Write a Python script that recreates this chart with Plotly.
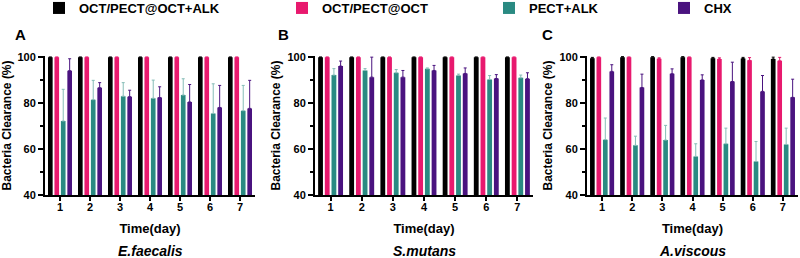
import plotly.graph_objects as go

days = ["1", "2", "3", "4", "5", "6", "7"]
series_names = ["OCT/PECT@OCT+ALK", "OCT/PECT@OCT", "PECT+ALK", "CHX"]
colors = ["#000000", "#E8196E", "#2A8A82", "#4A137F"]
err_colors = ["#000000", "#E8196E", "#86BDB7", "#4A137F"]

# Panel A: E.faecalis
a_vals = [
    [100, 100, 100, 100, 100, 100, 100],
    [100, 100, 100, 100, 100, 100, 100],
    [72.2, 81.5, 83.0, 82.1, 83.5, 75.5, 76.7],
    [94.1, 86.7, 82.8, 82.4, 80.5, 78.1, 77.7],
]
a_err = [
    [0, 0, 0, 0, 0, 0, 0],
    [0, 0, 0, 0, 0, 0, 0],
    [13.8, 8.4, 5.9, 7.9, 7.1, 12.9, 11.0],
    [5.2, 2.2, 2.8, 4.7, 7.6, 9.6, 12.2],
]
# Panel B: S.mutans
b_vals = [
    [100, 100, 100, 100, 100, 100, 100],
    [100, 100, 100, 100, 100, 100, 100],
    [92.2, 94.2, 93.2, 94.9, 92.0, 90.3, 91.0],
    [96.1, 91.3, 91.3, 94.2, 92.9, 90.7, 90.6],
]
b_err = [
    [0, 0, 0, 0, 0, 0, 0],
    [0, 0, 0, 0, 0, 0, 0],
    [2.8, 0.8, 1.4, 0.4, 0.6, 1.7, 1.2],
    [2.2, 8.7, 2.9, 2.2, 2.4, 1.7, 2.6],
]
# Panel C: A.viscous
c_vals = [
    [99.5, 100, 100, 100, 99.5, 99.4, 99.2],
    [100, 100, 99.3, 100, 99.2, 98.6, 98.4],
    [64.1, 61.6, 63.9, 56.8, 62.3, 54.6, 62.0],
    [93.8, 86.8, 92.8, 90.1, 89.4, 85.1, 82.5],
]
c_err = [
    [0.4, 0.2, 0.2, 0.2, 0.4, 0.5, 0.8],
    [0, 0, 0.4, 0, 0.5, 1.2, 1.5],
    [9.4, 4.0, 6.4, 5.5, 6.8, 8.7, 7.1],
    [2.9, 5.8, 2.1, 2.2, 8.4, 6.9, 7.9],
]
species = ["E.faecalis", "S.mutans", "A.viscous"]
panel_letters = ["A", "B", "C"]

panels = [(a_vals, a_err), (b_vals, b_err), (c_vals, c_err)]
x_domains = [[45 / 800, 255 / 800], [315 / 800, 533 / 800], [587 / 800, 798 / 800]]
y_domain = [1 - 195 / 258, 1 - 56 / 258]
legend_keys = ["legend", "legend2", "legend3", "legend4"]
legend_x = [39 / 800, 282 / 800, 489 / 800, 664 / 800]

FONT = "Liberation Sans, Arial, sans-serif"

fig = go.Figure()
for p, (vals, errs) in enumerate(panels):
    ax = "" if p == 0 else str(p + 1)
    for s in range(4):
        fig.add_trace(go.Bar(
            x=days, y=vals[s], name=series_names[s],
            marker=dict(color=colors[s], line=dict(width=0)),
            error_y=dict(type="data", symmetric=False, array=errs[s],
                         arrayminus=[0] * 7, color=err_colors[s],
                         thickness=1, width=1.5),
            xaxis="x" + ax, yaxis="y" + ax,
            showlegend=(p == 0), legend=legend_keys[s],
        ))

layout = dict(
    width=800, height=258,
    margin=dict(l=0, r=0, t=0, b=0, autoexpand=False),
    paper_bgcolor="white", plot_bgcolor="white",
    barmode="group", bargap=0.14, bargroupgap=0.28,
    font=dict(family=FONT, color="black"),
)
for p in range(3):
    ax = "" if p == 0 else str(p + 1)
    layout["xaxis" + ax] = dict(
        type="category",
        domain=x_domains[p], anchor="y" + ax, automargin=False,
        showline=True, linecolor="black", linewidth=2,
        ticks="outside", ticklen=4, tickwidth=1.5, tickcolor="black",
        ticklabelstandoff=-3,
        tickfont=dict(size=11, family=FONT, weight="bold"),
        showgrid=False, zeroline=False,
        title=dict(text="Time(day)", font=dict(size=13, family=FONT, weight="bold"), standoff=12),
    )
    layout["yaxis" + ax] = dict(
        domain=y_domain, anchor="x" + ax, automargin=False,
        range=[40, 100.5], dtick=20, tick0=40,
        showline=True, linecolor="black", linewidth=2,
        ticks="outside", ticklen=5, tickwidth=1.5, tickcolor="black",
        minor=dict(dtick=10, tick0=40, ticks="outside", ticklen=3, tickcolor="black", tickwidth=1.5),
        tickfont=dict(size=11, family=FONT, weight="bold"),
        showgrid=False, zeroline=False,
        title=dict(text="Bacteria Clearance (%)", font=dict(size=12, family=FONT, weight="bold"), standoff=4),
    )
for s in range(4):
    layout[legend_keys[s]] = dict(
        x=legend_x[s], y=1 + 7 / 258, xanchor="left", yanchor="top",
        orientation="h", bgcolor="rgba(0,0,0,0)",
        font=dict(size=13, family=FONT, weight="bold"),
        itemwidth=30, tracegroupgap=0,
    )

annotations = []
letter_x = [20, 283, 547]
for p in range(3):
    annotations.append(dict(
        text=panel_letters[p], x=letter_x[p] / 800, y=1 - 34 / 258,
        xref="paper", yref="paper", showarrow=False,
        xanchor="center", yanchor="middle",
        font=dict(size=15, family=FONT, weight="bold"),
    ))
    cx = (x_domains[p][0] + x_domains[p][1]) / 2
    annotations.append(dict(
        text=species[p], x=cx, y=1 - 251 / 258,
        xref="paper", yref="paper", showarrow=False,
        xanchor="center", yanchor="middle",
        font=dict(size=14, family=FONT, weight="bold", style="italic"),
    ))
layout["annotations"] = annotations

fig.update_layout(**layout)
fig.write_html("out.html", config={"displayModeBar": False},
               post_script="document.body.style.margin='0';")
